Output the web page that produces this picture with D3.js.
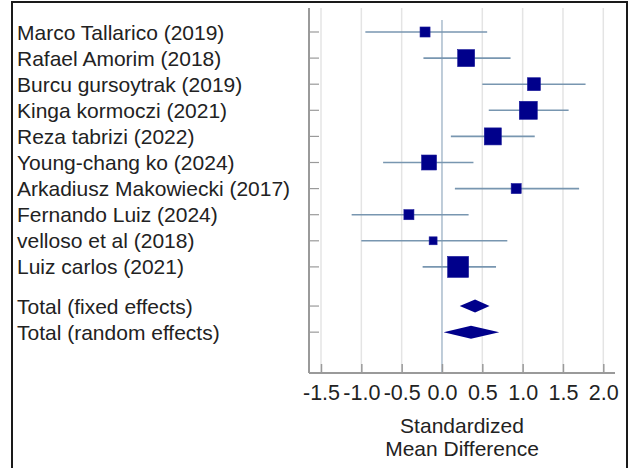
<!DOCTYPE html>
<html lang="en">
<head>
  <meta charset="UTF-8" />
  <title>Forest plot</title>
  <script src="https://cdn.jsdelivr.net/npm/d3@7/dist/d3.min.js"></script>
  <style>
    html, body { margin: 0; padding: 0; background: #fff; }
    body { font-family: "Liberation Sans", Arial, sans-serif; }
    #viz { width: 632px; height: 468px; }
  </style>
</head>
<body>
  <div id="viz"></div>

  <script>
  // Studies, effect (SMD), 95% CI, weight (%)
  const studies = [
    'Marco Tallarico (2019)', 'Rafael Amorim (2018)', 'Burcu gursoytrak (2019)',
    'Kinga kormoczi (2021)', 'Reza tabrizi (2022)', 'Young-chang ko (2024)',
    'Arkadiusz Makowiecki (2017)', 'Fernando Luiz (2024)', 'velloso et al (2018)',
    'Luiz carlos (2021)'
  ];
  const smd     = [-0.21, 0.30, 1.14, 1.07, 0.63, -0.16, 0.92, -0.41, -0.11, 0.20];
  const ciLow   = [-0.95, -0.23, 0.50, 0.58, 0.11, -0.73, 0.16, -1.12, -1.00, -0.24];
  const ciHigh  = [0.56, 0.85, 1.78, 1.57, 1.15, 0.39, 1.70, 0.33, 0.81, 0.67];
  const weights = [4.8, 13.8, 8.0, 15.4, 13.8, 10.7, 4.8, 4.8, 3.0, 21.0];

  const totals     = ['Total (fixed effects)', 'Total (random effects)'];
  const totalSmd   = [0.41, 0.36];
  const totalLow   = [0.22, 0.02];
  const totalHigh  = [0.59, 0.71];

  const xTicks = [-1.5, -1.0, -0.5, 0.0, 0.5, 1.0, 1.5, 2.0];
  const xTitle = ['Standardized', 'Mean Difference'];

  function drawViz() {
    const W = 632, H = 468;
    const svg = d3.select('#viz').append('svg')
      .attr('width', W).attr('height', H);

    // frame
    svg.append('rect')
      .attr('x', 12).attr('y', 2)
      .attr('width', 615).attr('height', H + 10)
      .attr('fill', 'none').attr('stroke', '#1a1a1a').attr('stroke-width', 2);

    const left = 309, right = 615, top = 8, bottom = 373;

    const x = d3.scaleLinear().domain([-1.5, 2.0]).range([321, 603.3]);
    // row slots: studies 0..9, totals after a gap
    const y = d3.scaleLinear().domain([0, 1]).range([32, 58.1]);
    const size = d3.scaleSqrt().domain([0, 21]).range([0, 21]);

    const rowSlots = studies.map((d, i) => i);
    const totalSlots = [10.5, 11.5];

    // gridlines
    svg.append('g').selectAll('line')
      .data(xTicks.filter(t => t !== 0))
      .join('line')
        .attr('x1', d => x(d)).attr('x2', d => x(d))
        .attr('y1', top).attr('y2', bottom)
        .attr('stroke', '#e4e4e4').attr('stroke-width', 1.5);

    // zero line
    svg.append('line')
      .attr('x1', x(0)).attr('x2', x(0))
      .attr('y1', top + 12).attr('y2', bottom)
      .attr('stroke', '#a9bccd').attr('stroke-width', 1.5);

    // axes
    const xAxis = svg.append('g')
      .attr('transform', `translate(0,${bottom})`)
      .call(d3.axisBottom(x).tickValues(xTicks).tickSizeInner(-9).tickSizeOuter(0)
        .tickFormat(d3.format('.1f')).tickPadding(12));
    xAxis.select('.domain').remove();
    xAxis.selectAll('.tick line').attr('stroke', '#9a9a9a').attr('stroke-width', 1.5);
    xAxis.selectAll('.tick text')
      .attr('font-family', '"Liberation Sans", Arial, sans-serif')
      .attr('font-size', 21.5).attr('fill', '#222')
      .text(d => d3.format('.1f')(d).replace('−', '-'));

    svg.append('line')
      .attr('x1', left).attr('x2', right).attr('y1', bottom).attr('y2', bottom)
      .attr('stroke', '#9a9a9a').attr('stroke-width', 2);
    svg.append('line')
      .attr('x1', left).attr('x2', left).attr('y1', top).attr('y2', bottom)
      .attr('stroke', '#9a9a9a').attr('stroke-width', 2);

    // y ticks
    svg.append('g').selectAll('line')
      .data(rowSlots.concat(totalSlots))
      .join('line')
        .attr('x1', left).attr('x2', left + 10)
        .attr('y1', d => y(d)).attr('y2', d => y(d))
        .attr('stroke', '#9a9a9a').attr('stroke-width', 1.2);

    // labels
    const labels = svg.append('g')
      .attr('font-size', 21).attr('fill', '#222');
    labels.selectAll('text.study')
      .data(studies)
      .join('text')
        .attr('class', 'study')
        .attr('x', 17).attr('y', (d, i) => y(rowSlots[i]))
        .attr('dy', '0.36em')
        .text(d => d);
    labels.selectAll('text.total')
      .data(totals)
      .join('text')
        .attr('class', 'total')
        .attr('x', 17).attr('y', (d, i) => y(totalSlots[i]))
        .attr('dy', '0.36em')
        .text(d => d);

    // confidence intervals
    svg.append('g').selectAll('line')
      .data(studies)
      .join('line')
        .attr('x1', (d, i) => x(ciLow[i])).attr('x2', (d, i) => x(ciHigh[i]))
        .attr('y1', (d, i) => y(rowSlots[i])).attr('y2', (d, i) => y(rowSlots[i]))
        .attr('stroke', '#7896b0').attr('stroke-width', 1.6);

    // squares
    svg.append('g').selectAll('rect')
      .data(studies)
      .join('rect')
        .attr('x', (d, i) => x(smd[i]) - size(weights[i]) / 2)
        .attr('y', (d, i) => y(rowSlots[i]) - size(weights[i]) / 2)
        .attr('width', (d, i) => size(weights[i]))
        .attr('height', (d, i) => size(weights[i]))
        .attr('fill', '#00008b').attr('stroke', '#1a1a9a').attr('stroke-width', 0.6);

    // diamonds
    const dh = 6.5;
    svg.append('g').selectAll('path')
      .data(totals)
      .join('path')
        .attr('d', (d, i) => {
          const cy = y(totalSlots[i]);
          return `M${x(totalLow[i])},${cy}L${x(totalSmd[i])},${cy - dh}` +
                 `L${x(totalHigh[i])},${cy}L${x(totalSmd[i])},${cy + dh}Z`;
        })
        .attr('fill', '#00008b');

    // axis title
    svg.append('g').selectAll('text')
      .data(xTitle)
      .join('text')
        .attr('x', (left + right) / 2)
        .attr('y', (d, i) => 425 + i * 23.5)
        .attr('dy', '0.36em')
        .attr('text-anchor', 'middle')
        .attr('font-size', 21).attr('fill', '#222')
        .text(d => d);
  }

  document.addEventListener('DOMContentLoaded', drawViz);
  </script>
</body>
</html>
